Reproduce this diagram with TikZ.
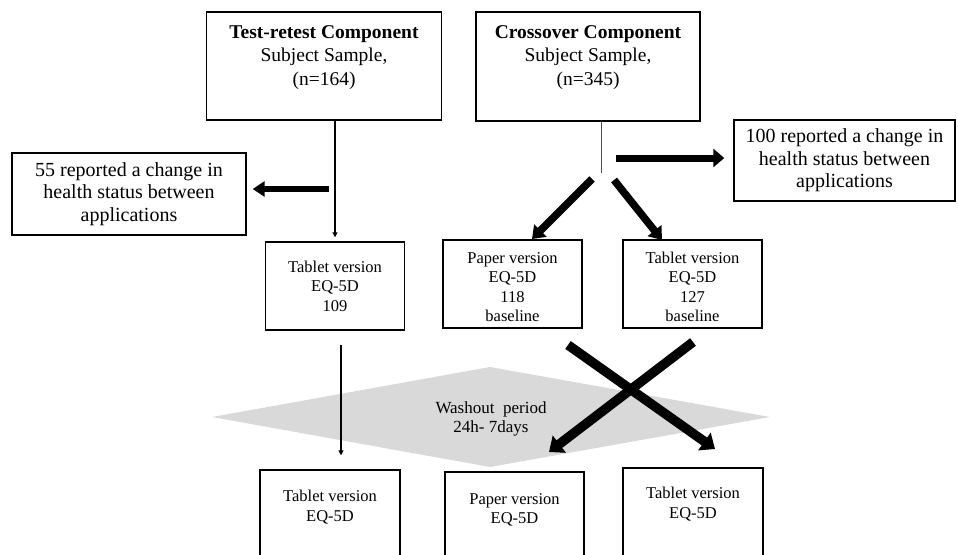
\documentclass[tikz,border=0pt]{standalone}
\usepackage{fontspec}
\setmainfont{Liberation Serif}
\usetikzlibrary{arrows.meta,positioning}
\definecolor{washgray}{RGB}{217,217,217}

\tikzset{
  box/.style={draw, line width=1.4pt, align=center, inner sep=0pt},
  boxtxt/.style={align=center, inner sep=0pt},
  bigfont/.style={font=\fontsize{19.5}{23.5}\selectfont},
  sidefont/.style={font=\fontsize{20}{22.5}\selectfont},
  smallfont/.style={font=\fontsize{16.5}{19.5}\selectfont},
  thinarrow/.style={line width=1.6pt, -{Triangle[length=5pt,width=5pt]}},
  fatarrow/.style={line width=6pt, -{Triangle[length=12pt,width=15pt]}},
  crossarrow/.style={line width=9.5pt, -{Triangle[length=13pt,width=21pt]}}
}

\begin{document}
\begin{tikzpicture}[x=1pt,y=-1pt]
\useasboundingbox (0,0) rectangle (958,554);
\clip (0,0) rectangle (958,554);

% washout period
\fill[washgray] (212,417) -- (490,367) -- (770,417) -- (490,467) -- cycle;
\node[boxtxt, font=\fontsize{17}{19}\selectfont] (wash) at (491,419) {Washout\ \ period\\24h- 7days};

% top row
\node[box, minimum width=235pt, minimum height=108pt] (trt) at (324,66) {};
\node[boxtxt, bigfont, below=14pt of trt.north] (trttxt) {\textbf{Test-retest Component}\\Subject Sample,\\(n=164)};
\node[box, minimum width=224pt, minimum height=109pt] (crs) at (588,66.5) {};
\node[boxtxt, bigfont, below=14pt of crs.north] (crstxt) {\textbf{Crossover Component}\\Subject Sample,\\(n=345)};

% dropouts
\node[box, sidefont, minimum width=234pt, minimum height=82pt] (chgL) at (129,194) {55 reported a change in\\health status between\\applications};
\node[box, sidefont, minimum width=221pt, minimum height=81pt] (chgR) at (844.5,160.5) {100 reported a change in\\health status between\\applications};

% baseline
\node[box, smallfont, minimum width=139pt, minimum height=88pt] (tabL) at (335,286) {Tablet version\\EQ-5D\\109};
\node[box, minimum width=139pt, minimum height=88pt] (papM) at (512.5,284) {};
\node[boxtxt, smallfont] (papMtxt) at (512.5,287) {Paper version\\EQ-5D\\118\\baseline};
\node[box, minimum width=139pt, minimum height=88pt] (tabR) at (692.5,284) {};
\node[boxtxt, smallfont] (tabRtxt) at (692.5,287) {Tablet version\\EQ-5D\\127\\baseline};

% after washout
\node[box, minimum width=140pt, minimum height=130pt] (tabA) at (330,535) {};
\node[boxtxt, smallfont, below=21pt of tabA.north] (tabAtxt) {Tablet version\\EQ-5D};
\node[box, minimum width=139pt, minimum height=130pt] (papB) at (514.5,537) {};
\node[boxtxt, smallfont, below=22pt of papB.north] (papBtxt) {Paper version\\EQ-5D};
\node[box, minimum width=140pt, minimum height=130pt] (tabC) at (693,533) {};
\node[boxtxt, smallfont, below=20pt of tabC.north] (tabCtxt) {Tablet version\\EQ-5D};

% test-retest arm
\coordinate (trtout) at (329,189);
\draw[thinarrow, shorten >=4pt] (trt.south -| tabL.north) -- (tabL.north);
\draw[fatarrow, shorten >=6pt] (trtout) -- (trtout -| chgL.east);
\coordinate (washL) at (341,345);
\draw[thinarrow, shorten >=14pt] (washL) -- (washL |- tabA.north);

% crossover arm
\coordinate (split) at (601,173);
\coordinate (splitL) at (592,179);
\coordinate (splitR) at (614,180);
\coordinate (crsout) at (616,158);
\draw[line width=0.8pt, black!70] (crs.south -| split) -- (split);
\draw[fatarrow, line width=7pt, -{Triangle[length=11pt,width=18pt]}, shorten >=9pt] (crsout) -- (crsout -| chgR.west);
\draw[fatarrow, line width=7.5pt, -{Triangle[length=12pt,width=17pt]}] (splitL) -- (532,239);
\draw[fatarrow, line width=7.5pt, -{Triangle[length=12pt,width=17pt]}] (splitR) -- (662,240);

% the cross
\coordinate (xa) at (568,345);
\coordinate (xb) at (693,342);
\coordinate (xaend) at (715,449);
\coordinate (xbend) at (549,452);
\draw[crossarrow] (xa) -- (xaend);
\draw[crossarrow] (xb) -- (xbend);
\end{tikzpicture}
\end{document}
